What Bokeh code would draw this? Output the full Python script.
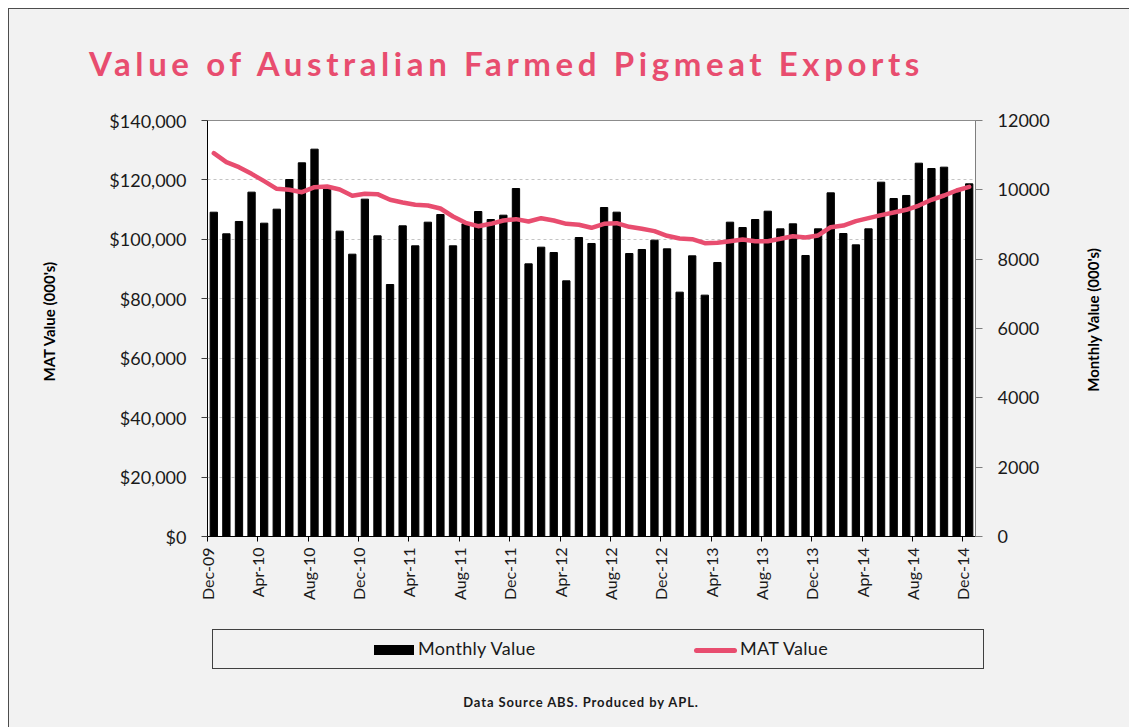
from bokeh.plotting import figure
from bokeh.layouts import column, row
from bokeh.models import (Range1d, LinearAxis, FixedTicker, NumeralTickFormatter, Div)
from bokeh.embed import file_html
from bokeh.resources import INLINE
import math

# ---------------- data ----------------
month_names = ["Jan", "Feb", "Mar", "Apr", "May", "Jun",
               "Jul", "Aug", "Sep", "Oct", "Nov", "Dec"]
start_year, start_month = 2009, 12
n_months = 61
months = []
for k in range(n_months):
    mi = (start_month - 1 + k) % 12
    yr = start_year + (start_month - 1 + k) // 12
    months.append(f"{month_names[mi]}-{yr % 100:02d}")

# Monthly export value (000's) - right axis
monthly_value = [9355, 8731, 9087, 9933, 9038, 9442, 10298, 10779, 11173, 10029,
                 8808, 8144, 9731, 8673, 7269, 8962, 8385, 9067, 9288, 8385,
                 9019, 9375, 9144, 9269, 10038, 7865, 8346, 8192, 7375, 8625,
                 8452, 9490, 9356, 8163, 8279, 8548, 8298, 7048, 8096, 6962,
                 7904, 9067, 8913, 9144, 9384, 8875, 9019, 8106, 8875, 9913,
                 8740, 8413, 8875, 10221, 9750, 9837, 10769, 10615, 10654, 9981,
                 10173]

# Moving annual total value (000's) - left axis
mat_value = [129000, 125970, 124290, 122050, 119580, 117010, 116670, 115880, 117560, 117790,
             116780, 114650, 115320, 115210, 113310, 112400, 111620, 111390, 110380, 107690,
             105560, 104440, 105230, 106350, 106800, 106010, 107130, 106350, 105230, 104900,
             103890, 105230, 105450, 104220, 103550, 102760, 101190, 100290, 100070, 98720,
             98830, 99390, 99950, 99390, 99390, 100180, 101070, 100630, 101300, 104100,
             104660, 106120, 107130, 108140, 109040, 109940, 111390, 113310, 114760, 116440,
             117690]

left_ticks = [0, 20000, 40000, 60000, 80000, 100000, 120000, 140000]
right_ticks = [0, 2000, 4000, 6000, 8000, 10000, 12000]
label_every = 4

title_text = "Value of Australian Farmed Pigmeat Exports"
left_axis_title = "MAT Value (000's)"
right_axis_title = "Monthly Value (000's)"
series_names = ["Monthly Value", "MAT Value"]
footer_parts = ["Data Source ABS", ".", " Produced by APL."]

# ---------------- styling ----------------
PINK = "#E84D6F"
BG = "#F2F2F2"
FONT = "Lato"
W = 1120
W_RIGHT = 45
H_TOP, H_MAIN, H_BOT = 91, 515, 112

# ---------------- title strip ----------------
title_div = Div(
    width=W, height=H_TOP, margin=0,
    styles={"background-color": BG},
    text=(f'<div style="position:relative;width:{W}px;height:{H_TOP}px;overflow:hidden;">'
          f'<div style="position:absolute;left:80px;top:35px;white-space:nowrap;'
          f'font-family:{FONT};font-weight:bold;font-size:33px;line-height:39.6px;'
          f'letter-spacing:4.6px;color:{PINK};">{title_text}</div></div>'))

# ---------------- main chart ----------------
x_pos = [i + 0.5 for i in range(n_months)]

p = figure(width=W - W_RIGHT, height=H_MAIN,
           x_range=Range1d(0, n_months), y_range=Range1d(0, 140000),
           output_backend="svg", toolbar_location=None,
           min_border_left=198, min_border_right=109,
           min_border_top=20, min_border_bottom=79,
           background_fill_color="white", border_fill_color=BG)
p.extra_y_ranges = {"monthly": Range1d(0, 12000)}

p.vbar(x=x_pos, top=monthly_value, width=0.58, y_range_name="monthly",
       fill_color="black", line_color="black")
p.line(x=x_pos, y=mat_value, line_color=PINK, line_width=4.5,
       line_join="round", line_cap="round")

p.outline_line_color = "#8c8c8c"
p.xgrid.visible = False
p.ygrid.grid_line_color = "#c4c4c4"
p.ygrid.grid_line_dash = "3 3"
p.ygrid.grid_line_width = 1

NB = "\u00a0" * 4

# left axis
ya = p.yaxis[0]
ya.ticker = FixedTicker(ticks=left_ticks)
ya.formatter = NumeralTickFormatter(format="$0,0")
ya.axis_label = NB + left_axis_title
ya.axis_label_text_font = FONT
ya.axis_label_text_font_style = "bold"
ya.axis_label_text_font_size = "15px"
ya.axis_label_text_color = "black"
ya.axis_label_standoff = 48
ya.major_label_text_font = FONT
ya.major_label_text_font_size = "18px"
ya.major_label_text_color = "#1a1a1a"
ya.major_label_standoff = 15
ya.major_tick_out = 6
ya.major_tick_in = 0
ya.minor_tick_out = 0
ya.minor_tick_in = 0
ya.axis_line_color = "black"
ya.major_tick_line_color = "#404040"

# right axis (its title is drawn beside the plot, reading upwards)
ra = LinearAxis(y_range_name="monthly", ticker=FixedTicker(ticks=right_ticks),
                formatter=NumeralTickFormatter(format="0"))
ra.major_label_text_font = FONT
ra.major_label_text_font_size = "18px"
ra.major_label_text_color = "#1a1a1a"
ra.major_label_standoff = 15
ra.major_tick_out = 7
ra.major_tick_in = 0
ra.minor_tick_out = 0
ra.minor_tick_in = 0
ra.axis_line_color = "#7f7f7f"
ra.major_tick_line_color = "#7f7f7f"
p.add_layout(ra, "right")

# x axis
xa = p.xaxis[0]
tick_locs = [i for i in range(0, n_months, label_every)]
xa.ticker = FixedTicker(ticks=tick_locs)
xa.major_label_overrides = {i: months[i] for i in tick_locs}
xa.major_label_orientation = math.pi / 2
xa.major_label_text_font = FONT
xa.major_label_text_font_size = "16px"
xa.major_label_text_color = "#1a1a1a"
xa.major_label_standoff = 6
xa.major_tick_out = 5
xa.major_tick_in = 0
xa.minor_tick_out = 0
xa.minor_tick_in = 0
xa.axis_line_color = "black"

right_div = Div(
    width=W_RIGHT, height=H_MAIN, margin=0, styles={"background-color": BG},
    text=(f'<div style="position:relative;width:{W_RIGHT}px;height:{H_MAIN}px;">'
          f'<div style="position:absolute;left:9px;top:220px;white-space:nowrap;'
          f'transform:translate(-50%,-50%) rotate(-90deg);font-family:{FONT};'
          f'font-weight:bold;font-size:15px;line-height:18px;color:#000;">'
          f'{right_axis_title}</div></div>'))

# ---------------- legend + source strip ----------------
txt = (f"position:absolute;white-space:nowrap;font-family:{FONT};color:#1a1a1a;")
bottom_html = (
    f'<div style="position:relative;width:{W}px;height:{H_BOT}px;overflow:hidden;">'
    # legend frame
    '<div style="position:absolute;left:203px;top:14px;width:772px;height:40px;'
    'border:1px solid #404040;"></div>'
    # monthly swatch + label
    '<div style="position:absolute;left:365px;top:30px;width:40px;height:10px;'
    'background:#000;"></div>'
    f'<div style="{txt}left:409px;top:23px;font-size:18px;line-height:21.6px;'
    f'letter-spacing:0.3px;">{series_names[0]}</div>'
    # MAT swatch + label
    f'<div style="position:absolute;left:685px;top:33px;width:43px;height:5px;'
    f'border-radius:2.5px;background:{PINK};"></div>'
    f'<div style="{txt}left:731px;top:23px;font-size:18px;line-height:21.6px;'
    f'letter-spacing:0.3px;">{series_names[1]}</div>'
    # source note
    f'<div style="{txt}left:372px;top:80px;width:400px;text-align:center;font-weight:bold;'
    f'font-size:13px;line-height:15.6px;letter-spacing:0.9px;">'
    f'{footer_parts[0]}<span style="color:#1F2A8C;">{footer_parts[1]}</span>{footer_parts[2]}</div>'
    '</div>')
bottom_div = Div(width=W, height=H_BOT, margin=0, styles={"background-color": BG},
                 text=bottom_html)

layout = column(title_div, row(p, right_div, spacing=0), bottom_div, spacing=0,
                styles={"margin-left": "8px", "margin-top": "8px",
                        "border-left": "1px solid #4d4d4d",
                        "border-top": "1px solid #4d4d4d",
                        "background-color": BG})

open("out.html", "w").write(file_html(layout, INLINE))
